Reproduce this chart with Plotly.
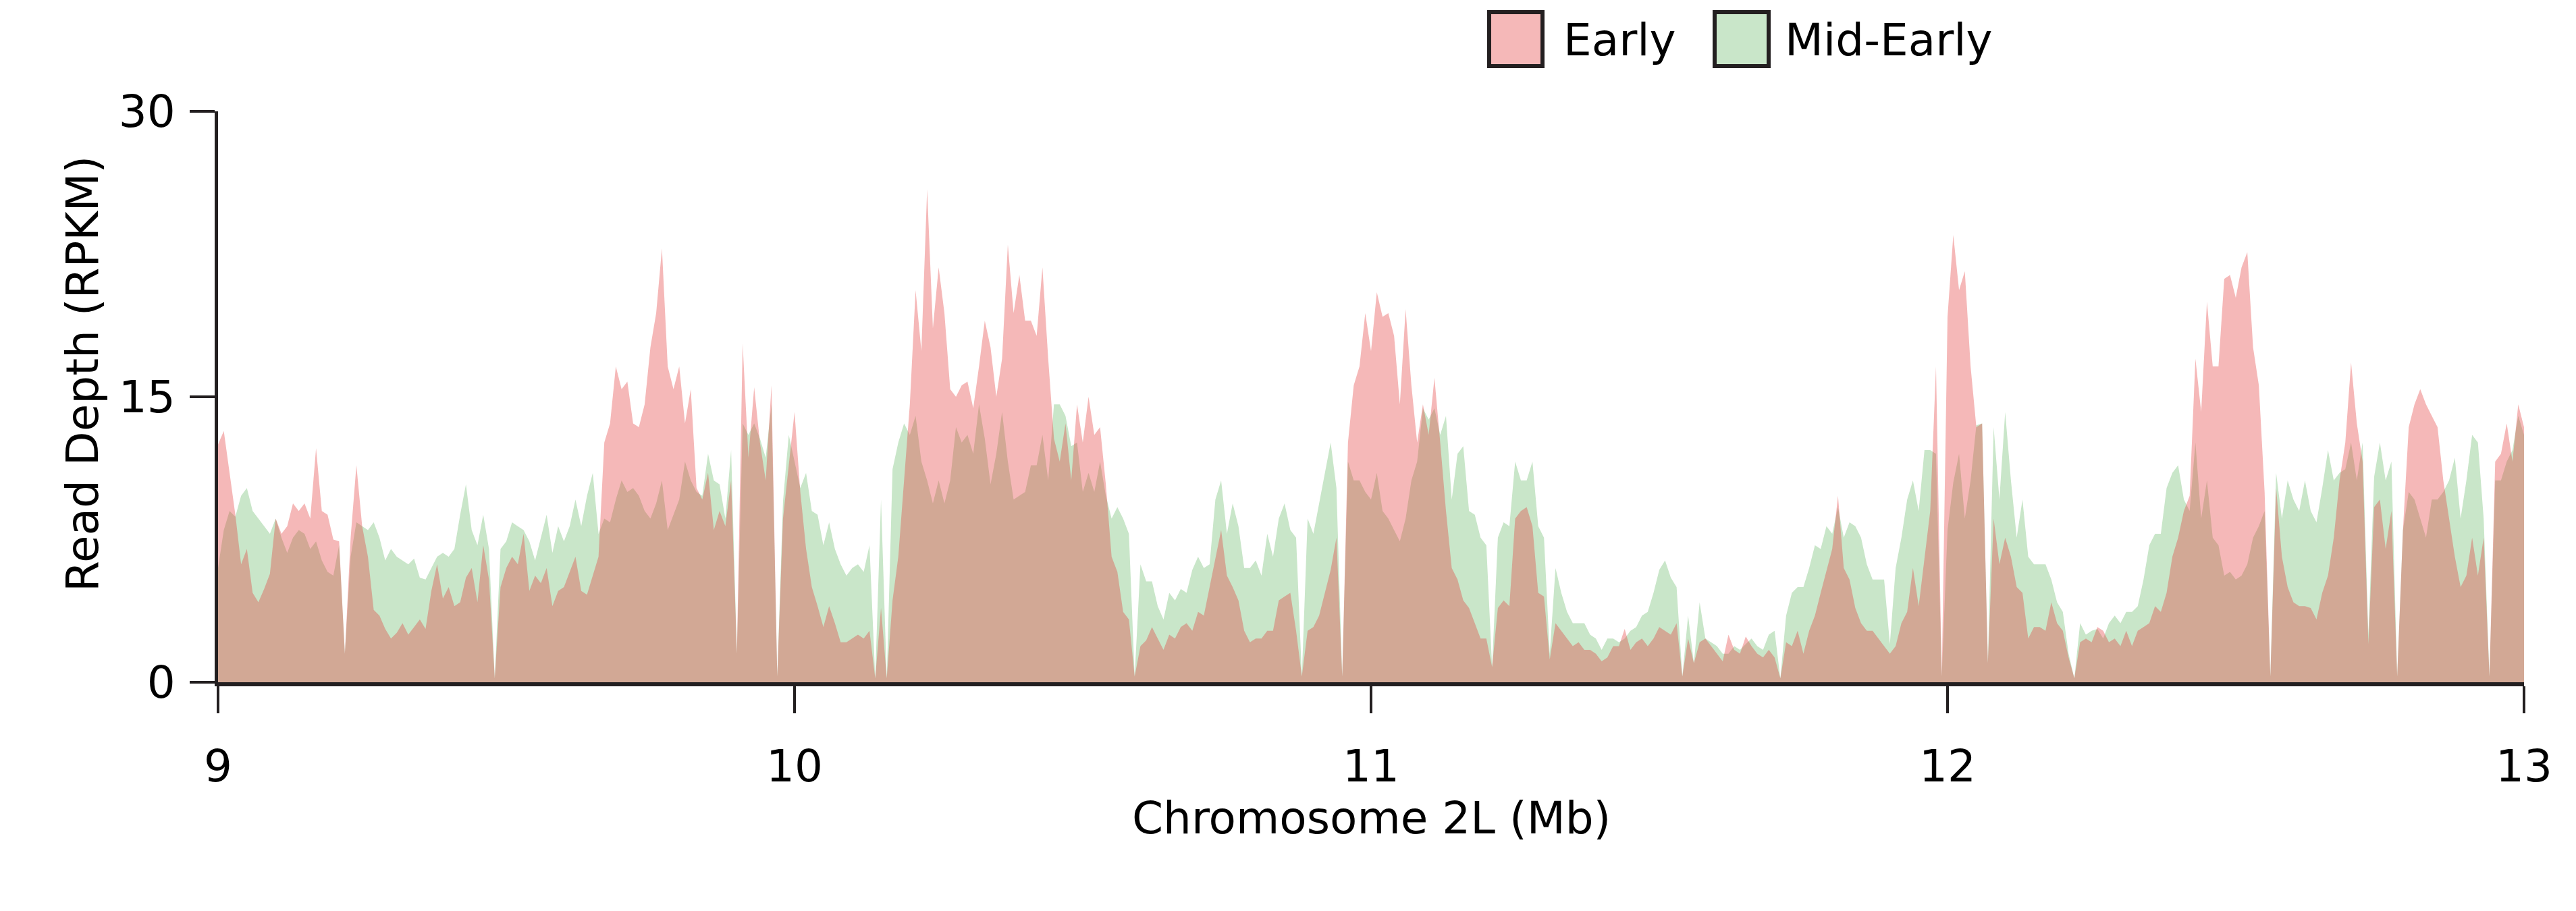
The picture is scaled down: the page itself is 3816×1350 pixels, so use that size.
import numpy as np
import plotly.graph_objects as go

# Genomic bins: 9.00 .. 13.00 Mb in 0.01 Mb steps
bin_start_mb = 9.0
bin_step_mb = 0.01

early = [
    12.5, 13.2, 11.0, 8.8, 6.2, 7.0, 4.7, 4.2, 4.9, 5.7,
    8.6, 7.8, 8.2, 9.4, 9.0, 9.4, 8.6, 12.3, 9.0, 8.8,
    7.5, 7.4, 1.5, 7.6, 11.4, 8.2, 6.6, 3.8, 3.5, 2.8,
    2.3, 2.6, 3.1, 2.5, 2.9, 3.3, 2.8, 4.8, 6.2, 4.4,
    5.0, 4.0, 4.2, 5.5, 6.0, 4.2, 7.2, 5.4, 0.2, 5.0,
    6.0, 6.6, 6.2, 7.8, 4.8, 5.6, 5.2, 6.0, 4.0, 4.8,
    5.0, 5.8, 6.6, 4.8, 4.6, 5.6, 6.6, 12.6, 13.6, 16.6,
    15.4, 15.8, 13.6, 13.4, 14.6, 17.6, 19.4, 22.8, 16.6, 15.4,
    16.6, 13.6, 15.4, 10.2, 9.6, 11.0, 8.0, 9.0, 8.2, 10.6,
    1.5, 17.8, 11.8, 15.5, 12.6, 10.6, 15.6, 0.3, 8.6, 11.4,
    14.2, 10.0, 7.0, 5.0, 4.0, 2.9, 4.0, 3.1, 2.1, 2.1,
    2.3, 2.5, 2.3, 2.7, 0.2, 3.9, 0.2, 4.3, 6.6, 10.6,
    14.6, 20.6, 17.4, 25.9, 18.6, 21.8, 19.4, 15.4, 15.0, 15.6,
    15.8, 14.4, 16.6, 19.0, 17.6, 15.0, 17.0, 23.0, 19.4, 21.4,
    19.0, 19.0, 18.2, 21.8, 17.0, 12.8, 11.6, 13.6, 10.6, 14.6,
    12.6, 15.0, 13.0, 13.4, 10.4, 6.6, 5.8, 3.7, 3.3, 0.3,
    1.9, 2.2, 2.9, 2.3, 1.7, 2.5, 2.3, 2.9, 3.1, 2.7,
    3.7, 3.5, 5.0, 6.6, 8.0, 5.6, 5.0, 4.3, 2.7, 2.1,
    2.3, 2.3, 2.7, 2.7, 4.3, 4.5, 4.7, 2.7, 0.3, 2.7,
    2.9, 3.5, 4.7, 5.9, 7.6, 0.3, 12.6, 15.6, 16.6, 19.4,
    17.4, 20.5, 19.2, 19.4, 18.2, 14.6, 19.6, 15.6, 12.6, 14.6,
    13.0, 16.0, 12.6, 9.0, 6.0, 5.4, 4.3, 3.9, 3.1, 2.3,
    2.3, 0.8, 3.9, 4.3, 4.0, 8.6, 9.0, 9.2, 8.2, 4.7,
    4.5, 1.2, 3.1, 2.7, 2.3, 1.9, 2.1, 1.7, 1.7, 1.5,
    1.1, 1.3, 1.9, 1.9, 2.8, 1.7, 2.1, 2.3, 1.9, 2.3,
    2.9, 2.7, 2.5, 3.1, 0.3, 2.3, 1.0, 2.1, 2.3, 1.9,
    1.5, 1.1, 2.5, 1.7, 1.5, 2.4, 1.9, 1.5, 1.3, 1.7,
    1.3, 0.2, 2.1, 1.9, 2.7, 1.5, 2.7, 3.5, 4.7, 5.9,
    7.0, 9.8, 6.0, 5.4, 3.9, 3.1, 2.7, 2.7, 2.3, 1.9,
    1.5, 1.9, 3.1, 3.7, 6.0, 4.0, 6.6, 9.0, 16.6, 0.3,
    19.2, 23.5, 20.6, 21.6, 16.6, 13.4, 13.6, 1.0, 8.6, 6.2,
    7.6, 6.6, 5.0, 4.7, 2.3, 2.9, 2.9, 2.7, 4.2, 3.1,
    2.7, 1.3, 0.2, 2.1, 2.3, 2.1, 2.9, 2.7, 2.1, 2.3,
    1.9, 2.7, 1.9, 2.7, 2.9, 3.1, 4.0, 3.7, 4.7, 6.6,
    7.6, 9.0, 9.8, 17.0, 14.2, 20.0, 16.6, 16.6, 21.2, 21.4,
    20.2, 21.8, 22.6, 17.6, 15.6, 10.0, 0.3, 10.2, 6.6, 5.0,
    4.2, 4.0, 4.0, 3.9, 3.3, 4.7, 5.6, 7.6, 10.6, 12.6,
    16.8, 13.6, 11.6, 2.0, 9.2, 9.6, 7.0, 9.0, 0.3, 8.0,
    13.4, 14.6, 15.4, 14.6, 14.0, 13.4, 10.6, 8.6, 6.6, 5.0,
    5.6, 7.6, 5.6, 7.6, 0.3, 11.6, 12.0, 13.6, 11.6, 14.6,
    13.4,
]

mid_early = [
    6.0, 8.0, 9.0, 8.7, 9.8, 10.2, 9.0, 8.6, 8.2, 7.8,
    8.6, 7.6, 6.8, 7.6, 8.0, 7.8, 7.0, 7.4, 6.4, 5.8,
    5.6, 7.2, 1.5, 6.6, 8.4, 8.2, 8.0, 8.4, 7.6, 6.4,
    7.0, 6.6, 6.4, 6.2, 6.5, 5.5, 5.4, 6.0, 6.6, 6.8,
    6.6, 7.0, 8.8, 10.4, 8.0, 7.2, 8.8, 7.0, 0.2, 7.0,
    7.4, 8.4, 8.2, 8.0, 7.4, 6.4, 7.6, 8.8, 6.8, 8.2,
    7.4, 8.2, 9.6, 8.2, 9.8, 11.0, 7.8, 8.6, 8.4, 9.6,
    10.6, 10.0, 10.2, 9.8, 9.0, 8.6, 9.4, 10.6, 8.0, 8.8,
    9.6, 11.6, 10.6, 10.0, 9.8, 12.0, 10.6, 10.4, 8.6, 12.2,
    1.5, 13.6, 13.0, 13.6, 12.8, 11.8, 14.6, 0.3, 9.5, 13.0,
    11.6, 10.2, 11.0, 9.0, 8.8, 7.2, 8.4, 7.0, 6.2, 5.6,
    6.0, 6.2, 5.8, 7.2, 0.2, 9.6, 0.2, 11.2, 12.6, 13.6,
    13.0, 14.0, 11.6, 10.6, 9.4, 10.6, 9.4, 10.6, 13.4, 12.6,
    13.0, 12.0, 14.6, 12.8, 10.4, 12.0, 14.2, 11.6, 9.6, 9.8,
    10.0, 11.4, 11.4, 13.0, 10.6, 14.6, 14.6, 14.0, 12.4, 12.6,
    10.0, 11.0, 10.0, 11.6, 9.8, 8.6, 9.2, 8.6, 7.8, 0.3,
    6.2, 5.3, 5.3, 4.0, 3.3, 4.7, 4.3, 4.9, 4.7, 5.9,
    6.6, 6.0, 6.2, 9.6, 10.6, 7.8, 9.4, 8.2, 6.0, 6.0,
    6.4, 5.6, 7.8, 6.6, 8.6, 9.4, 8.0, 7.6, 0.3, 8.6,
    7.8, 9.4, 11.0, 12.6, 10.2, 0.3, 11.6, 10.6, 10.6, 10.0,
    9.6, 11.0, 9.0, 8.6, 8.0, 7.4, 8.6, 10.6, 11.6, 14.4,
    13.8, 14.4, 13.0, 14.0, 9.6, 12.0, 12.4, 9.0, 8.8, 7.6,
    7.2, 0.8, 7.6, 8.4, 8.2, 11.6, 10.6, 10.6, 11.6, 8.2,
    7.6, 1.5, 6.0, 4.7, 3.7, 3.1, 3.1, 3.1, 2.5, 2.3,
    1.7, 2.3, 2.3, 2.1, 2.3, 2.7, 2.9, 3.5, 3.7, 4.7,
    5.9, 6.4, 5.5, 5.0, 0.3, 3.5, 1.0, 4.2, 2.3, 2.1,
    1.9, 1.5, 1.5, 1.9, 1.7, 2.0, 2.3, 1.9, 1.7, 2.5,
    2.7, 0.2, 3.5, 4.7, 5.0, 5.0, 6.0, 7.2, 7.0, 8.2,
    7.8, 9.2, 7.6, 8.4, 8.2, 7.6, 6.2, 5.4, 5.4, 5.4,
    2.0, 6.0, 7.6, 9.6, 10.6, 9.0, 12.2, 12.2, 12.0, 0.3,
    8.0, 10.5, 12.0, 8.6, 10.6, 13.5, 13.6, 1.0, 13.4, 9.6,
    14.2, 10.6, 7.6, 9.6, 6.6, 6.2, 6.2, 6.2, 5.4, 4.2,
    3.7, 1.5, 0.2, 3.1, 2.5, 2.7, 2.8, 2.3, 3.1, 3.5,
    3.1, 3.7, 3.7, 4.0, 5.4, 7.2, 7.8, 7.8, 10.2, 11.0,
    11.4, 9.6, 9.0, 12.6, 8.6, 10.6, 7.6, 7.2, 5.6, 5.8,
    5.4, 5.6, 6.2, 7.6, 8.2, 9.0, 0.3, 11.0, 8.6, 10.6,
    9.6, 9.0, 10.6, 9.0, 8.4, 10.2, 12.2, 10.6, 11.0, 11.2,
    12.6, 10.6, 12.6, 2.5, 10.8, 12.6, 10.6, 11.6, 0.3, 8.0,
    10.0, 9.6, 8.6, 7.6, 9.6, 9.6, 10.0, 10.6, 11.8, 8.6,
    10.6, 13.0, 12.6, 8.6, 0.3, 10.6, 10.6, 11.6, 12.2, 14.0,
    13.0,
]

x_ticks = [9, 10, 11, 12, 13]
y_ticks = [0, 15, 30]
series_names = ["Early", "Mid-Early"]


def positions(values):
    return np.round(bin_start_mb + bin_step_mb * np.arange(len(values)), 4)


INK = "#231f20"
EARLY_FILL = "rgba(226,52,52,0.35)"
MID_FILL = "rgb(201,230,201)"
FONT = "DejaVu Sans"

fig = go.Figure()
fig.add_trace(go.Scatter(
    x=positions(mid_early), y=mid_early, name=series_names[1],
    mode="lines", fill="tozeroy", fillcolor=MID_FILL,
    line=dict(width=0, color=MID_FILL), showlegend=False, hoverinfo="skip",
))
fig.add_trace(go.Scatter(
    x=positions(early), y=early, name=series_names[0],
    mode="lines", fill="tozeroy", fillcolor=EARLY_FILL,
    line=dict(width=0, color=EARLY_FILL), showlegend=False, hoverinfo="skip",
))

W, H = 3816, 1350
L, R, T, B = 323, 77, 165, 339
PW, PH = W - L - R, H - T - B


def px_x(px):
    return (px - L) / PW


def px_y(py):
    return (H - B - py) / PH


shapes = []
annotations = []
# manual legend
legend_items = [(series_names[0], EARLY_FILL, 2206, 2285, 2314),
                (series_names[1], MID_FILL, 2540, 2620, 2642)]
for name, col, x0, x1, tx in legend_items:
    shapes.append(dict(type="rect", xref="paper", yref="paper",
                       x0=px_x(x0), x1=px_x(x1), y0=px_y(98), y1=px_y(18),
                       fillcolor=col, line=dict(color=INK, width=6), layer="above"))
    annotations.append(dict(text=name, xref="paper", yref="paper",
                            x=px_x(tx), y=px_y(60), xanchor="left", yanchor="middle",
                            showarrow=False, font=dict(family=FONT, size=66, color="black")))

annotations.append(dict(text="Read Depth (RPKM)", xref="paper", yref="paper",
                        x=px_x(122), y=px_y(554), xanchor="center", yanchor="middle",
                        textangle=-90, showarrow=False,
                        font=dict(family=FONT, size=66, color="black")))
annotations.append(dict(text="Chromosome 2L (Mb)", xref="paper", yref="paper",
                        x=px_x(2031), y=px_y(1212), xanchor="center", yanchor="middle",
                        showarrow=False, font=dict(family=FONT, size=66, color="black")))

fig.update_layout(
    width=W, height=H,
    margin=dict(l=L, r=R, t=T, b=B, pad=0),
    paper_bgcolor="white", plot_bgcolor="white",
    showlegend=False,
    shapes=shapes, annotations=annotations,
    font=dict(family=FONT, size=66, color="black"),
)
fig.update_xaxes(
    range=[9, 13], tickvals=x_ticks, ticktext=[str(v) for v in x_ticks],
    showgrid=False, zeroline=False, showline=True, linecolor=INK, linewidth=6,
    ticks="outside", ticklen=40, tickwidth=4, tickcolor=INK,
    tickfont=dict(family=FONT, size=66, color="black"), ticklabelstandoff=22,
)
fig.update_yaxes(
    range=[0, 30], tickvals=y_ticks, ticktext=[str(v) for v in y_ticks],
    showgrid=False, zeroline=False, showline=True, linecolor=INK, linewidth=5,
    ticks="outside", ticklen=37, tickwidth=4, tickcolor=INK,
    tickfont=dict(family=FONT, size=66, color="black"), ticklabelstandoff=8,
)

fig.write_html("out.html", config={"displayModeBar": False})
